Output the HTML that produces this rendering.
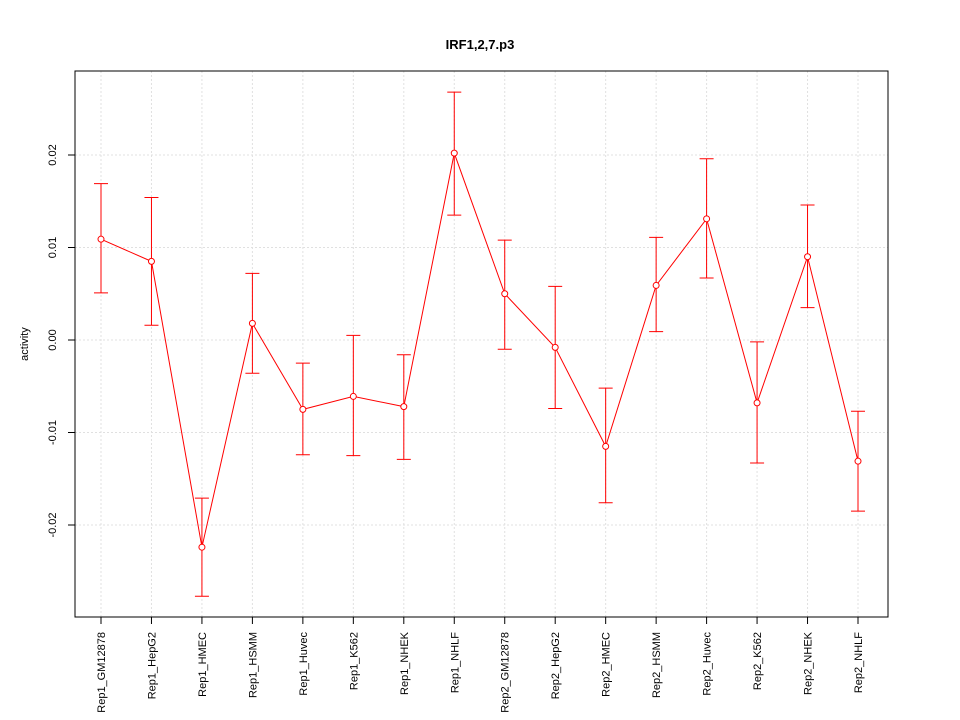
<!DOCTYPE html>
<html><head><meta charset="utf-8"><style>
html,body{margin:0;padding:0;background:#fff;}
svg{display:block;font-family:"Liberation Sans",sans-serif;}
</style></head><body>
<svg id="chart" width="960" height="720" viewBox="0 0 960 720">
<rect width="960" height="720" fill="#fff"/>
<text x="480" y="49" text-anchor="middle" font-size="13" font-weight="bold">IRF1,2,7.p3</text>
<g id="grid"></g>
<g id="yaxis"></g>
<g id="xaxis"></g>
<g id="series"></g>
<rect x="75" y="71" width="813" height="546" fill="none" stroke="#000" stroke-width="1"/>
<text transform="translate(28,344) rotate(-90)" text-anchor="middle" font-size="11">activity</text>
</svg>
<script>
const categories=["Rep1_GM12878","Rep1_HepG2","Rep1_HMEC","Rep1_HSMM","Rep1_Huvec","Rep1_K562","Rep1_NHEK","Rep1_NHLF","Rep2_GM12878","Rep2_HepG2","Rep2_HMEC","Rep2_HSMM","Rep2_Huvec","Rep2_K562","Rep2_NHEK","Rep2_NHLF"];
const values=[0.0109,0.0085,-0.0224,0.0018,-0.0075,-0.0061,-0.0072,0.0202,0.0050,-0.0008,-0.0115,0.0059,0.0131,-0.0068,0.0090,-0.0131];
const upper=[0.0169,0.0154,-0.0171,0.0072,-0.0025,0.0005,-0.0016,0.0268,0.0108,0.0058,-0.0052,0.0111,0.0196,-0.0002,0.0146,-0.0077];
const lower=[0.0051,0.0016,-0.0277,-0.0036,-0.0124,-0.0125,-0.0129,0.0135,-0.0010,-0.0074,-0.0176,0.0009,0.0067,-0.0133,0.0035,-0.0185];
const yTicks=[-0.02,-0.01,0.00,0.01,0.02];
const yTickLabels=["-0.02","-0.01","0.00","0.01","0.02"];

const NS="http://www.w3.org/2000/svg";
const x=i=>101+i*(858-101)/(categories.length-1);
const y=v=>340-v*9250;
function mk(tag,attrs,parent){const e=document.createElementNS(NS,tag);for(const k in attrs)e.setAttribute(k,attrs[k]);parent.appendChild(e);return e;}
const grid=document.getElementById('grid'),ya=document.getElementById('yaxis'),xa=document.getElementById('xaxis'),se=document.getElementById('series');

yTicks.forEach((t,i)=>{
  const g=mk('line',{x1:75,x2:888,y1:y(t),y2:y(t),stroke:'#e0e0e0','stroke-dasharray':'2,2'},grid);
  
  
  const tk=mk('line',{x1:68,x2:75,y1:y(t),y2:y(t),stroke:'#000'},ya);
  
  
  const tx=mk('text',{transform:`translate(56,${y(t)}) rotate(-90)`,'text-anchor':'middle','font-size':'11'},ya);
  tx.textContent=yTickLabels[i];
  
  
});
categories.forEach((c,i)=>{
  const g=mk('line',{x1:x(i),x2:x(i),y1:71,y2:617,stroke:'#e0e0e0','stroke-dasharray':'2,2'},grid);
  
  
  const tk=mk('line',{x1:x(i),x2:x(i),y1:617,y2:624,stroke:'#000'},xa);
  
  
  const tx=mk('text',{transform:`translate(${x(i)+4},632) rotate(-90)`,'text-anchor':'end','font-size':'11'},xa);
  tx.textContent=c;
  
  
});
const pl=mk('polyline',{points:values.map((v,i)=>x(i)+','+y(v)).join(' '),fill:'none',stroke:'#ff0000','stroke-width':1},se);


values.forEach((v,i)=>{
  const eb=mk('path',{d:`M${x(i)},${y(upper[i])}V${y(lower[i])}M${x(i)-7},${y(upper[i])}H${x(i)+7}M${x(i)-7},${y(lower[i])}H${x(i)+7}`,stroke:'#ff0000',fill:'none','stroke-width':1},se);
  
  
  const p=mk('circle',{cx:x(i),cy:y(v),r:3,fill:'#fff',stroke:'#ff0000','stroke-width':1},se);
  
  
});
</script>
</body></html>
